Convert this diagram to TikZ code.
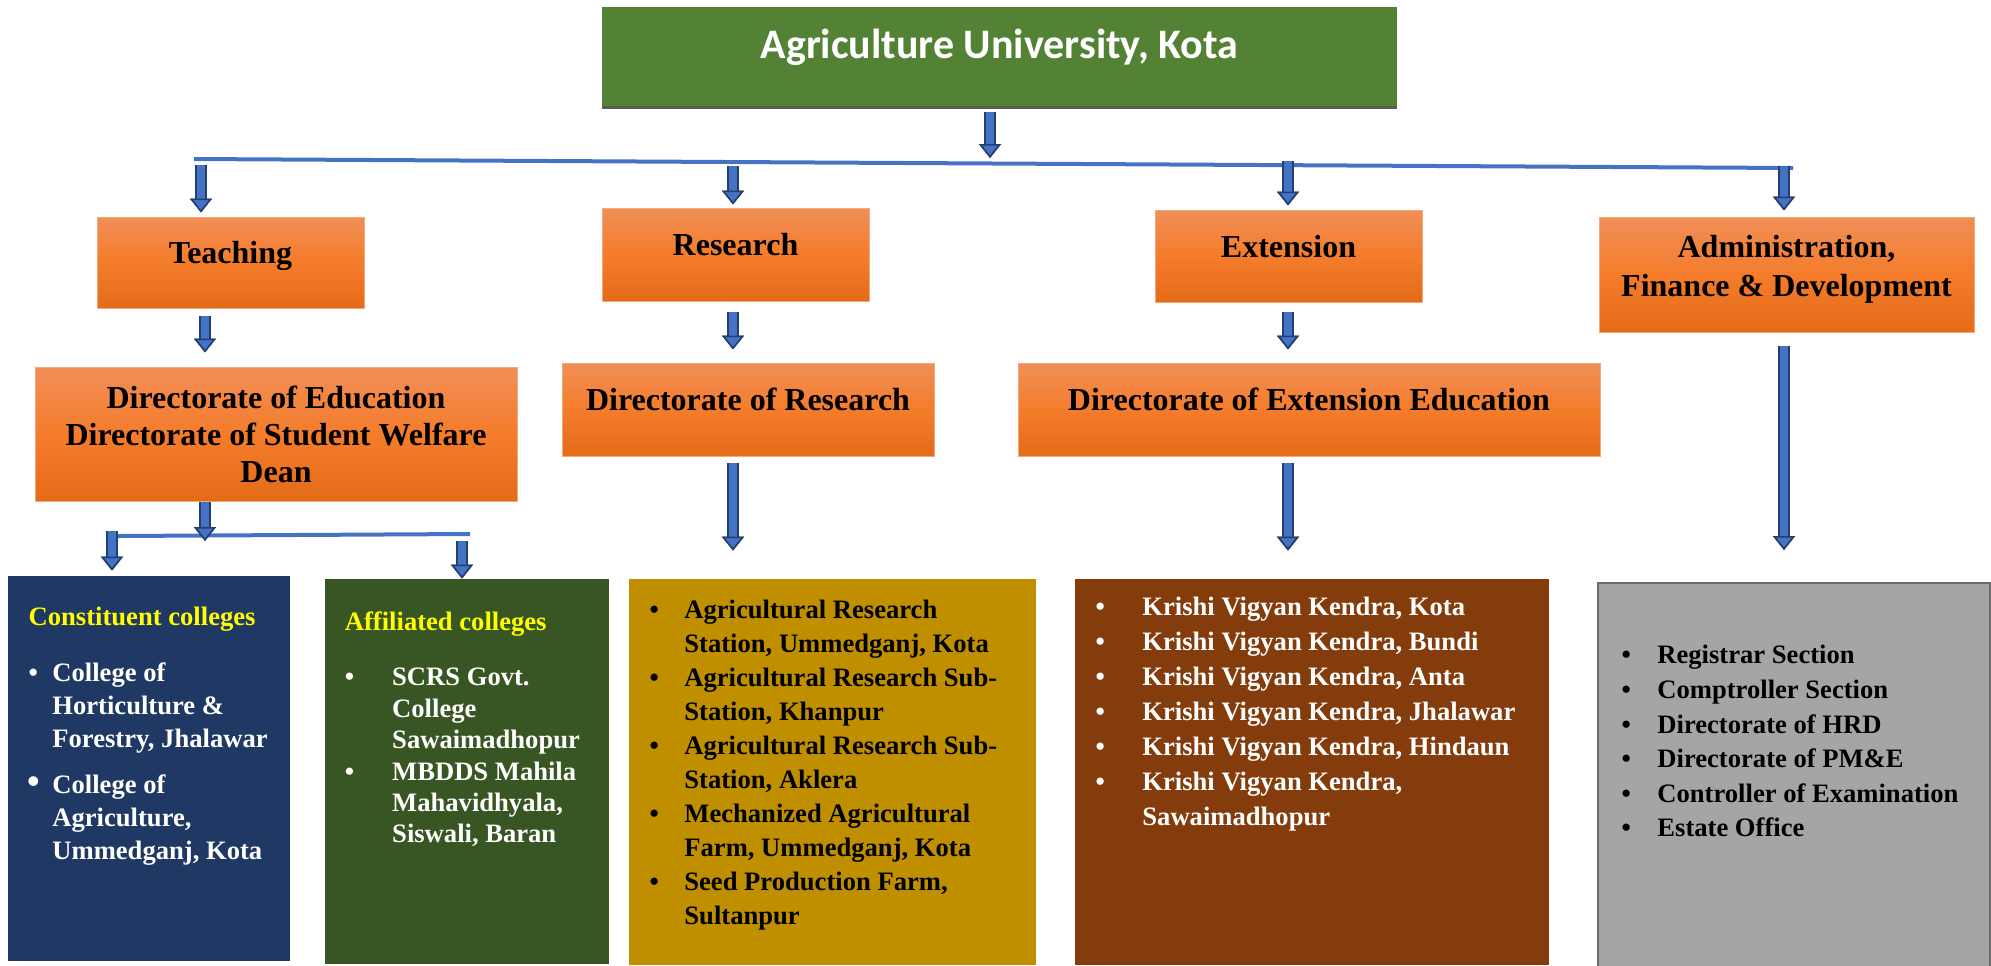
\documentclass[tikz,border=0pt]{standalone}
\usepackage{fontspec}
\setmainfont{Liberation Serif}
\newfontfamily\calibri{Carlito}
\usetikzlibrary{arrows.meta}

\definecolor{uniGreen}{HTML}{548235}
\definecolor{uniShadow}{HTML}{5A5A5A}
\definecolor{arrFill}{HTML}{4472C4}
\definecolor{arrEdge}{HTML}{233F6E}
\definecolor{orTop}{HTML}{F18F58}
\definecolor{orMid}{HTML}{F47C2B}
\definecolor{orBot}{HTML}{E46B18}
\definecolor{orEdge}{HTML}{F4A878}
\definecolor{navyBox}{HTML}{203864}
\definecolor{dgreenBox}{HTML}{375623}
\definecolor{goldBox}{HTML}{BF8F00}
\definecolor{brownBox}{HTML}{843C0C}
\definecolor{greyBox}{HTML}{A5A5A5}
\definecolor{greyEdge}{HTML}{6A6A6A}
\definecolor{headYellow}{HTML}{FFFF00}

\tikzset{
  orangebox/.style={draw=orEdge, line width=0.5pt, top color=orTop, bottom color=orBot,
    middle color=orMid, inner sep=0pt, align=center,
    font=\bfseries\fontsize{16}{18.5}\selectfont},
  oneline/.style={text height=6pt, text depth=5pt},
  listbox/.style={inner sep=0pt},
  listtext/.style={inner sep=0pt, anchor=base west},
  barline/.style={draw=arrFill, line width=2pt},
  blockarrow/.style={draw=arrFill, line width=4pt,
    -{Triangle[width=11pt,length=7pt,fill=arrFill,color=arrEdge,line width=0.8pt]},
    preaction={draw=arrEdge, line width=5.6pt}}
}

\begin{document}
\begin{tikzpicture}[x=0.5pt,y=-0.5pt]
\useasboundingbox (0,0) rectangle (1991,965);

% top
\node[fill=uniGreen, inner sep=0pt, minimum width=397.5pt, minimum height=49.5pt,
  text=white, font=\calibri\bfseries\fontsize{21}{25}\selectfont,
  text height=6pt, text depth=4pt] (uni) at (999.5,56.5) {Agriculture University, Kota};
\fill[uniShadow] (uni.south west) rectangle ([yshift=-1.5pt]uni.south east);

% second row
\node[orangebox, oneline, minimum width=133.5pt, minimum height=45.5pt] (teach) at (230.5,262.5) {Teaching};
\node[orangebox, oneline, minimum width=133.5pt, minimum height=46.5pt] (res) at (735.5,254.5) {Research};
\node[orangebox, oneline, minimum width=133.5pt, minimum height=46pt] (ext) at (1288.5,256) {Extension};
\node[orangebox, minimum width=187.5pt, minimum height=57.5pt, text depth=8.5pt,
  font=\bfseries\fontsize{16}{19.5}\selectfont] (adm) at (1786.5,274.5) {Administration,\\Finance \& Development};

% directorates
\node[orangebox, minimum width=241pt, minimum height=67pt] (doe) at (276,434)
  {Directorate of Education\\Directorate of Student Welfare\\Dean};
\node[orangebox, oneline, minimum width=186pt, minimum height=46.5pt] (dor) at (748,409.5) {Directorate of Research};
\node[orangebox, oneline, minimum width=291pt, minimum height=46.5pt] (doee) at (1309,409.5) {Directorate of Extension Education};

% bottom boxes
\node[listbox, fill=navyBox, minimum width=141pt, minimum height=192.5pt] (cons) at (149,768.5) {};
\node[listbox, fill=dgreenBox, minimum width=142pt, minimum height=192.5pt] (aff) at (467,771.5) {};
\node[listbox, fill=goldBox, minimum width=203.5pt, minimum height=193pt] (gold) at (832.5,772) {};
\node[listbox, fill=brownBox, minimum width=237pt, minimum height=193pt] (kvk) at (1312,772) {};
\node[listbox, fill=greyBox, draw=greyEdge, line width=1pt, minimum width=196pt, minimum height=192pt] (admlist) at (1794,775) {};

\node[listtext, text=white, font=\bfseries\fontsize{13.3}{16.5}\selectfont] (consT) at (28.3,625.8)
  {\begin{tabular}[t]{@{}l@{\hspace{7.2pt}}l@{}}
  \multicolumn{2}{@{}l@{}}{\color{headYellow}Constituent colleges}\\[11.5pt]
  \textbullet & College of\\
   & Horticulture \&\\
   & Forestry, Jhalawar\\[6.5pt]
  \makebox[4.65pt][c]{\fontsize{18}{16.5}\selectfont\textbullet} & College of\\
   & Agriculture,\\
   & Ummedganj, Kota
  \end{tabular}};
\node[listtext, text=white, font=\bfseries\fontsize{13.3}{15.7}\selectfont] (affT) at (344.5,630.8)
  {\begin{tabular}[t]{@{}l@{\hspace{19pt}}l@{}}
  \multicolumn{2}{@{}l@{}}{\color{headYellow}Affiliated colleges}\\[11.8pt]
  \textbullet & SCRS Govt.\\
   & College\\
   & Sawaimadhopur\\
  \textbullet & MBDDS Mahila\\
   & Mahavidhyala,\\
   & Siswali, Baran
  \end{tabular}};
\node[listtext, text=black, font=\bfseries\fontsize{13.3}{17}\selectfont] (goldT) at (649.3,618.8)
  {\begin{tabular}[t]{@{}l@{\hspace{12.7pt}}l@{}}
  \textbullet & Agricultural Research\\
   & Station, Ummedganj, Kota\\
  \textbullet & Agricultural Research Sub-\\
   & Station, Khanpur\\
  \textbullet & Agricultural Research Sub-\\
   & Station, Aklera\\
  \textbullet & Mechanized Agricultural\\
   & Farm, Ummedganj, Kota\\
  \textbullet & Seed Production Farm,\\
   & Sultanpur
  \end{tabular}};
\node[listtext, text=white, font=\bfseries\fontsize{13.3}{17.5}\selectfont] (kvkT) at (1095.3,615.8)
  {\begin{tabular}[t]{@{}l@{\hspace{18.7pt}}l@{}}
  \textbullet & Krishi Vigyan Kendra, Kota\\
  \textbullet & Krishi Vigyan Kendra, Bundi\\
  \textbullet & Krishi Vigyan Kendra, Anta\\
  \textbullet & Krishi Vigyan Kendra, Jhalawar\\
  \textbullet & Krishi Vigyan Kendra, Hindaun\\
  \textbullet & Krishi Vigyan Kendra,\\
   & Sawaimadhopur
  \end{tabular}};
\node[listtext, text=black, font=\bfseries\fontsize{13.3}{17.3}\selectfont] (admT) at (1621.3,663.8)
  {\begin{tabular}[t]{@{}l@{\hspace{13.2pt}}l@{}}
  \textbullet & Registrar Section\\
  \textbullet & Comptroller Section\\
  \textbullet & Directorate of HRD\\
  \textbullet & Directorate of PM\&E\\
  \textbullet & Controller of Examination\\
  \textbullet & Estate Office
  \end{tabular}};

% bars and arrows
\coordinate (barW) at (194,159);
\coordinate (barE) at (1793,168);
\coordinate (bU) at (990,158);
\coordinate (bT) at (201,165);
\coordinate (bR) at (733,166);
\coordinate (bE) at (1288,161);
\coordinate (bA) at (1784,166);
\coordinate (subW) at (118,536);
\coordinate (subE) at (470,534);
\coordinate (subM) at (205,541);
\coordinate (subL) at (112,531);
\coordinate (subR) at (462,541);

\draw[barline] (barW) -- (barE);
\draw[barline] (subW) -- (subE);

\draw[blockarrow, shorten <=3pt] (uni.south -| bU) -- (bU);
\draw[blockarrow, shorten >=2pt] (bT) -- (teach.north -| bT);
\draw[blockarrow, shorten >=1.5pt] (bR) -- (res.north -| bR);
\draw[blockarrow, shorten >=2pt] (bE) -- (ext.north -| bE);
\draw[blockarrow, shorten >=3pt] (bA) -- (adm.north -| bA);
\draw[blockarrow, shorten <=3.5pt, shorten >=7pt] (teach.south -| subM) -- (doe.north -| subM);
\draw[blockarrow, shorten <=5pt, shorten >=6.5pt] (res.south -| bR) -- (dor.north -| bR);
\draw[blockarrow, shorten <=4.5pt, shorten >=6.5pt] (ext.south -| bE) -- (doee.north -| bE);
\draw[blockarrow, shorten <=6.5pt, shorten >=16pt] (adm.south -| bA) -- (admlist.north -| bA);
\draw[blockarrow] (doe.south -| subM) -- (subM);
\draw[blockarrow, shorten >=2.5pt] (subL) -- (cons.north -| subL);
\draw[blockarrow] (subR) -- (aff.north -| subR);
\draw[blockarrow, shorten <=3pt, shorten >=14pt] (dor.south -| bR) -- (gold.north -| bR);
\draw[blockarrow, shorten <=3pt, shorten >=14pt] (doee.south -| bE) -- (kvk.north -| bE);
\end{tikzpicture}
\end{document}
